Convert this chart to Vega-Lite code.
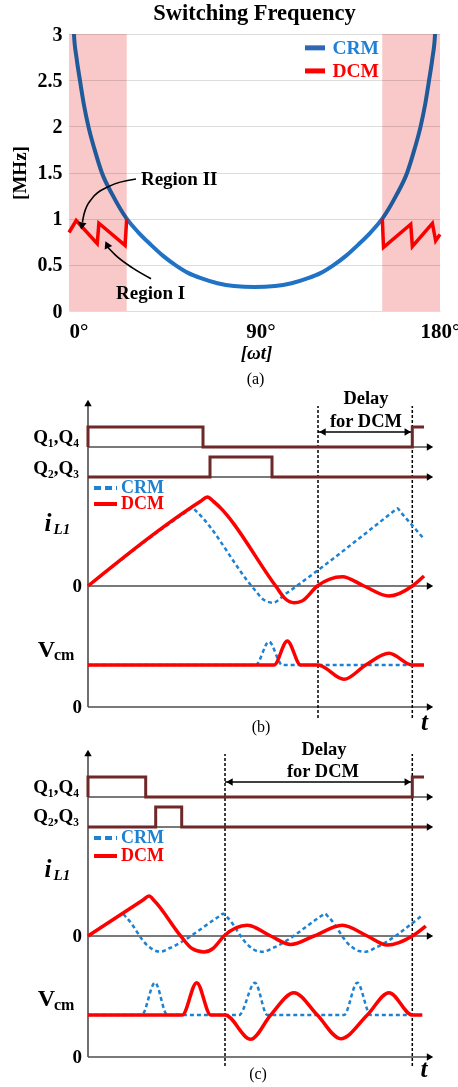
{
  "$schema": "https://vega.github.io/schema/vega-lite/v6.json",
  "bounds": "flush",
  "spacing": 30,
  "padding": {"left": 10, "top": 1, "right": 0, "bottom": 0},
  "config": {
    "view": {"stroke": null},
    "font": "Liberation Serif",
    "text": {"font": "Liberation Serif", "fontWeight": "bold", "fontSize": 19, "baseline": "middle", "color": "black"}
  },
  "vconcat": [
    {
      "width": 371,
      "height": 277,
      "title": {"text": "Switching Frequency", "font": "Liberation Serif", "fontSize": 22.5, "fontWeight": "bold", "color": "black", "offset": 0},
      "layer": [
        {
          "data": {"values": [
            {"deg": 2.0, "mhz": 3.25}, {"deg": 2.4, "mhz": 3.0}, {"deg": 3.6, "mhz": 2.75}, {"deg": 5.3, "mhz": 2.5},
            {"deg": 7.1, "mhz": 2.25}, {"deg": 9.4, "mhz": 2.0}, {"deg": 12.4, "mhz": 1.75}, {"deg": 15.9, "mhz": 1.5},
            {"deg": 21.3, "mhz": 1.25}, {"deg": 28, "mhz": 1.0}, {"deg": 33.5, "mhz": 0.855}, {"deg": 39.6, "mhz": 0.72},
            {"deg": 45.5, "mhz": 0.6}, {"deg": 51.8, "mhz": 0.495}, {"deg": 58, "mhz": 0.41}, {"deg": 64.7, "mhz": 0.35},
            {"deg": 72, "mhz": 0.3}, {"deg": 80, "mhz": 0.27}, {"deg": 90, "mhz": 0.26},
            {"deg": 100, "mhz": 0.27}, {"deg": 108, "mhz": 0.3}, {"deg": 115.3, "mhz": 0.35}, {"deg": 122, "mhz": 0.41},
            {"deg": 128.2, "mhz": 0.495}, {"deg": 134.5, "mhz": 0.6}, {"deg": 140.4, "mhz": 0.72}, {"deg": 146.5, "mhz": 0.855},
            {"deg": 152, "mhz": 1.0}, {"deg": 158.7, "mhz": 1.25}, {"deg": 164.1, "mhz": 1.5}, {"deg": 167.6, "mhz": 1.75},
            {"deg": 170.6, "mhz": 2.0}, {"deg": 172.9, "mhz": 2.25}, {"deg": 174.7, "mhz": 2.5}, {"deg": 176.4, "mhz": 2.75},
            {"deg": 177.6, "mhz": 3.0}, {"deg": 178.0, "mhz": 3.25}
          ]},
          "mark": {"type": "line", "interpolate": "monotone", "strokeWidth": 4, "clip": true, "color": "#1f72c4"},
          "encoding": {
            "x": {
              "field": "deg", "type": "quantitative",
              "scale": {"domain": [0, 180], "nice": false, "zero": false},
              "axis": {
                "values": [0, 90, 180],
                "labelExpr": "datum.value + '°'",
                "labelFlush": false,
                "labelAlign": {"condition": {"test": "datum.value === 0", "value": "left"}, "value": "center"},
                "labelOffset": {"condition": {"test": "datum.value === 90", "value": 6}, "value": 0},
                "domain": false, "ticks": false, "grid": false,
                "labelFont": "Liberation Serif", "labelFontWeight": "bold", "labelFontSize": 21,
                "labelColor": "black", "labelPadding": 9, "title": null
              }
            },
            "y": {
              "field": "mhz", "type": "quantitative",
              "scale": {"domain": [0, 3], "nice": false},
              "axis": {
                "values": [0, 0.5, 1, 1.5, 2, 2.5, 3], "format": "~g",
                "grid": true, "gridColor": "#dddddd", "gridWidth": 1,
                "domain": false, "ticks": false,
                "labelFont": "Liberation Serif", "labelFontWeight": "bold", "labelFontSize": 20,
                "labelColor": "black", "labelPadding": 7,
                "title": "[MHz]", "titleFont": "Liberation Serif", "titleFontWeight": "bold",
                "titleFontSize": 19, "titleColor": "black", "titlePadding": 8
              }
            }
          }
        },
        {
          "mark": {"type": "rule", "strokeDash": [2.5, 3], "strokeWidth": 2.5, "color": "black"},
          "encoding": {"y": {"datum": 1, "type": "quantitative"}}
        },
        {
          "data": {"values": [
            {"side": "rise", "deg": 0, "mhz": 0.85}, {"side": "rise", "deg": 3.5, "mhz": 0.98},
            {"side": "rise", "deg": 13.7, "mhz": 0.73}, {"side": "rise", "deg": 14.5, "mhz": 0.95},
            {"side": "rise", "deg": 27.2, "mhz": 0.71}, {"side": "rise", "deg": 28, "mhz": 1.0},
            {"side": "fall", "deg": 152, "mhz": 1.0}, {"side": "fall", "deg": 152.6, "mhz": 0.69},
            {"side": "fall", "deg": 165.8, "mhz": 0.94}, {"side": "fall", "deg": 166.6, "mhz": 0.7},
            {"side": "fall", "deg": 176.3, "mhz": 0.95}, {"side": "fall", "deg": 177.9, "mhz": 0.76},
            {"side": "fall", "deg": 180, "mhz": 0.83}
          ]},
          "mark": {"type": "line", "strokeWidth": 3.5, "color": "#ff0000", "strokeJoin": "miter"},
          "encoding": {
            "x": {"field": "deg", "type": "quantitative"},
            "y": {"field": "mhz", "type": "quantitative"},
            "detail": {"field": "side"}
          }
        },
        {
          "data": {"values": [
            {"mode": "CRM", "a": 114.5, "b": 124.2, "c": 127.8, "y": 2.85},
            {"mode": "DCM", "a": 114.5, "b": 124.2, "c": 127.8, "y": 2.6}
          ]},
          "layer": [
            {
              "mark": {"type": "rule", "strokeWidth": 5},
              "encoding": {
                "x": {"field": "a", "type": "quantitative"},
                "x2": {"field": "b"},
                "y": {"field": "y", "type": "quantitative"},
                "color": {"field": "mode", "type": "nominal", "scale": {"domain": ["CRM", "DCM"], "range": ["#2d68b4", "#ff0000"]}, "legend": null}
              }
            },
            {
              "mark": {"type": "text", "align": "left", "fontSize": 19.5},
              "encoding": {
                "x": {"field": "c", "type": "quantitative"},
                "y": {"field": "y", "type": "quantitative"},
                "text": {"field": "mode"},
                "color": {"field": "mode", "type": "nominal", "scale": {"domain": ["CRM", "DCM"], "range": ["#1f80d6", "#ff0000"]}, "legend": null}
              }
            }
          ],
          "resolve": {"scale": {"color": "independent"}}
        },
        {
          "data": {"values": [
            {"arrow": "II", "deg": 32.5, "mhz": 1.43}, {"arrow": "II", "deg": 19.4, "mhz": 1.35},
            {"arrow": "II", "deg": 11.2, "mhz": 1.22}, {"arrow": "II", "deg": 7.3, "mhz": 1.05},
            {"arrow": "II", "deg": 6.5, "mhz": 0.96},
            {"arrow": "I", "deg": 39.8, "mhz": 0.35}, {"arrow": "I", "deg": 30.6, "mhz": 0.47},
            {"arrow": "I", "deg": 22.8, "mhz": 0.6}, {"arrow": "I", "deg": 18.8, "mhz": 0.69}
          ]},
          "mark": {"type": "line", "interpolate": "monotone", "strokeWidth": 1.6, "color": "black"},
          "encoding": {
            "x": {"field": "deg", "type": "quantitative"},
            "y": {"field": "mhz", "type": "quantitative"},
            "detail": {"field": "arrow"}
          }
        },
        {
          "data": {"values": [{"deg": 6.2, "mhz": 0.92}]},
          "mark": {"type": "point", "shape": "triangle-up", "filled": true, "color": "black", "opacity": 1, "size": 70, "angle": 190},
          "encoding": {"x": {"field": "deg", "type": "quantitative"}, "y": {"field": "mhz", "type": "quantitative"}}
        },
        {
          "data": {"values": [{"deg": 18.4, "mhz": 0.72}]},
          "mark": {"type": "point", "shape": "triangle-up", "filled": true, "color": "black", "opacity": 1, "size": 70, "angle": 335},
          "encoding": {"x": {"field": "deg", "type": "quantitative"}, "y": {"field": "mhz", "type": "quantitative"}}
        },
        {
          "data": {"values": [
            {"label": "Region II", "deg": 34.9, "mhz": 1.43},
            {"label": "Region I", "deg": 22.8, "mhz": 0.195}
          ]},
          "mark": {"type": "text", "align": "left", "fontSize": 19},
          "encoding": {
            "x": {"field": "deg", "type": "quantitative"},
            "y": {"field": "mhz", "type": "quantitative"},
            "text": {"field": "label"}
          }
        },
        {
          "data": {"values": [{"from": 0, "to": 28}, {"from": 152, "to": 180}]},
          "mark": {"type": "rect", "color": "#f9c8c8", "blend": "multiply"},
          "encoding": {
            "x": {"field": "from", "type": "quantitative"},
            "x2": {"field": "to"},
            "y": {"datum": 0, "type": "quantitative"},
            "y2": {"datum": 3}
          }
        },
        {
          "data": {"values": [{"label": "[ωt]", "deg": 91, "mhz": -0.455}]},
          "mark": {"type": "text", "fontStyle": "italic", "fontSize": 19},
          "encoding": {
            "x": {"field": "deg", "type": "quantitative"},
            "y": {"field": "mhz", "type": "quantitative"},
            "text": {"field": "label"}
          }
        },
        {
          "data": {"values": [{"label": "(a)", "deg": 90.5, "mhz": -0.74}]},
          "mark": {"type": "text", "fontWeight": "normal", "fontSize": 16},
          "encoding": {
            "x": {"field": "deg", "type": "quantitative"},
            "y": {"field": "mhz", "type": "quantitative"},
            "text": {"field": "label"}
          }
        }
      ]
    },
    {
      "width": 375,
      "height": 380,
      "layer": [
        {
          "data": {"values": [
            {"t1": 0, "t2": 34.3, "v1": 26, "v2": 26},
            {"t1": 0, "t2": 34.3, "v1": 23, "v2": 23},
            {"t1": 0, "t2": 34.3, "v1": 12.1, "v2": 12.1},
            {"t1": 0, "t2": 34.3, "v1": 0, "v2": 0},
            {"t1": 0, "t2": 0, "v1": 0, "v2": 30.3}
          ]},
          "mark": {"type": "rule", "color": "#4d4d4d", "strokeWidth": 1.6},
          "encoding": {
            "x": {"field": "t1", "type": "quantitative", "scale": {"domain": [-1.9, 35.6], "nice": false, "zero": false}, "axis": null},
            "x2": {"field": "t2"},
            "y": {"field": "v1", "type": "quantitative", "scale": {"domain": [-1.4, 36.6], "nice": false, "zero": false}, "axis": null},
            "y2": {"field": "v2"}
          }
        },
        {
          "data": {"values": [
            {"t": 23.0, "v1": -1.1, "v2": 30.1},
            {"t": 32.43, "v1": -1.1, "v2": 30.1}
          ]},
          "mark": {"type": "rule", "color": "black", "strokeWidth": 1.5, "strokeDash": [3, 2]},
          "encoding": {
            "x": {"field": "t", "type": "quantitative", "axis": null},
            "y": {"field": "v1", "type": "quantitative", "axis": null},
            "y2": {"field": "v2"}
          }
        },
        {
          "data": {"values": [{"t1": 23.0, "t2": 32.43, "v": 27.5}]},
          "mark": {"type": "rule", "color": "black", "strokeWidth": 1.5},
          "encoding": {
            "x": {"field": "t1", "type": "quantitative", "axis": null},
            "x2": {"field": "t2"},
            "y": {"field": "v", "type": "quantitative", "axis": null}
          }
        },
        {
          "data": {"values": [
            {"sig": "Q14", "i": 0, "t": 0, "v": 26}, {"sig": "Q14", "i": 1, "t": 0, "v": 28},
            {"sig": "Q14", "i": 2, "t": 11.5, "v": 28}, {"sig": "Q14", "i": 3, "t": 11.5, "v": 26},
            {"sig": "Q14", "i": 4, "t": 32.43, "v": 26}, {"sig": "Q14", "i": 5, "t": 32.43, "v": 28},
            {"sig": "Q14", "i": 6, "t": 33.6, "v": 28},
            {"sig": "Q23", "i": 0, "t": 0, "v": 23}, {"sig": "Q23", "i": 1, "t": 12.2, "v": 23},
            {"sig": "Q23", "i": 2, "t": 12.2, "v": 25}, {"sig": "Q23", "i": 3, "t": 18.4, "v": 25},
            {"sig": "Q23", "i": 4, "t": 18.4, "v": 23}, {"sig": "Q23", "i": 5, "t": 33.9, "v": 23}
          ]},
          "mark": {"type": "line", "color": "#6e2828", "strokeWidth": 3, "strokeJoin": "miter"},
          "encoding": {
            "x": {"field": "t", "type": "quantitative", "axis": null},
            "y": {"field": "v", "type": "quantitative", "axis": null},
            "detail": {"field": "sig"},
            "order": {"field": "i", "type": "quantitative"}
          }
        },
        {
          "data": {"values": [
            {"trace": "iL1", "t": 0, "v": 12.1}, {"trace": "iL1", "t": 10.1, "v": 19.7}, {"trace": "iL1", "t": 10.43, "v": 19.92},
            {"trace": "iL1", "t": 10.8, "v": 19.6}, {"trace": "iL1", "t": 16.6, "v": 11.8}, {"trace": "iL1", "t": 17.6, "v": 10.7},
            {"trace": "iL1", "t": 18.5, "v": 10.43}, {"trace": "iL1", "t": 19.8, "v": 11.34}, {"trace": "iL1", "t": 30.55, "v": 19.57},
            {"trace": "iL1", "t": 30.93, "v": 19.87}, {"trace": "iL1", "t": 31.3, "v": 19.45}, {"trace": "iL1", "t": 33.6, "v": 16.8},
            {"trace": "Vcm", "t": 0, "v": 4.2}, {"trace": "Vcm", "t": 16.77, "v": 4.2}, {"trace": "Vcm", "t": 18.1, "v": 6.53},
            {"trace": "Vcm", "t": 19.43, "v": 4.2}, {"trace": "Vcm", "t": 33.6, "v": 4.2}
          ]},
          "mark": {"type": "line", "interpolate": "monotone", "color": "#1e82d2", "strokeWidth": 2.5, "strokeDash": [4, 3]},
          "encoding": {
            "x": {"field": "t", "type": "quantitative", "axis": null},
            "y": {"field": "v", "type": "quantitative", "axis": null},
            "detail": {"field": "trace"}
          }
        },
        {
          "data": {"values": [
            {"trace": "iL1", "t": 0, "v": 12.1}, {"trace": "iL1", "t": 11.3, "v": 20.6}, {"trace": "iL1", "t": 11.93, "v": 21.0},
            {"trace": "iL1", "t": 12.55, "v": 20.55}, {"trace": "iL1", "t": 18.77, "v": 12.1}, {"trace": "iL1", "t": 19.7, "v": 10.85},
            {"trace": "iL1", "t": 20.6, "v": 10.43}, {"trace": "iL1", "t": 21.4, "v": 10.6}, {"trace": "iL1", "t": 22.93, "v": 12.1},
            {"trace": "iL1", "t": 25.43, "v": 13.03}, {"trace": "iL1", "t": 27.6, "v": 12.1}, {"trace": "iL1", "t": 30.1, "v": 11.1},
            {"trace": "iL1", "t": 32.43, "v": 12.1}, {"trace": "iL1", "t": 33.6, "v": 13.1},
            {"trace": "Vcm", "t": 0, "v": 4.2}, {"trace": "Vcm", "t": 18.6, "v": 4.2}, {"trace": "Vcm", "t": 19.93, "v": 6.6},
            {"trace": "Vcm", "t": 21.27, "v": 4.2}, {"trace": "Vcm", "t": 23.0, "v": 4.2}, {"trace": "Vcm", "t": 25.6, "v": 2.77},
            {"trace": "Vcm", "t": 27.77, "v": 4.2}, {"trace": "Vcm", "t": 30.1, "v": 5.37}, {"trace": "Vcm", "t": 32.43, "v": 4.2},
            {"trace": "Vcm", "t": 33.6, "v": 4.2}
          ]},
          "mark": {"type": "line", "interpolate": "monotone", "color": "#ff0000", "strokeWidth": 3.5},
          "encoding": {
            "x": {"field": "t", "type": "quantitative", "axis": null},
            "y": {"field": "v", "type": "quantitative", "axis": null},
            "detail": {"field": "trace"}
          }
        },
        {
          "data": {"values": [
            {"t": 34.2, "v": 26, "dir": "right"}, {"t": 34.2, "v": 23, "dir": "right"},
            {"t": 34.2, "v": 12.1, "dir": "right"}, {"t": 34.2, "v": 0, "dir": "right"},
            {"t": 0, "v": 30.4, "dir": "up"},
            {"t": 23.45, "v": 27.5, "dir": "left"}, {"t": 31.98, "v": 27.5, "dir": "right"}
          ]},
          "mark": {"type": "point", "filled": true, "color": "black", "opacity": 1, "size": 55},
          "encoding": {
            "x": {"field": "t", "type": "quantitative", "axis": null},
            "y": {"field": "v", "type": "quantitative", "axis": null},
            "shape": {"field": "dir", "type": "nominal", "scale": {"domain": ["right", "up", "left"], "range": ["triangle-right", "triangle-up", "triangle-left"]}, "legend": null}
          }
        },
        {
          "data": {"values": [
            {"mode": "CRM", "t1": 0.6, "t2": 2.9, "tx": 3.3, "v": 21.9},
            {"mode": "DCM", "t1": 0.6, "t2": 2.9, "tx": 3.3, "v": 20.3}
          ]},
          "layer": [
            {
              "mark": {"type": "rule", "strokeWidth": 4},
              "encoding": {
                "x": {"field": "t1", "type": "quantitative", "axis": null},
                "x2": {"field": "t2"},
                "y": {"field": "v", "type": "quantitative", "axis": null},
                "color": {"field": "mode", "type": "nominal", "scale": {"domain": ["CRM", "DCM"], "range": ["#1e82d2", "#ff0000"]}, "legend": null},
                "strokeDash": {"field": "mode", "type": "nominal", "scale": {"domain": ["CRM", "DCM"], "range": [[7, 4], [1, 0]]}, "legend": null}
              }
            },
            {
              "mark": {"type": "text", "align": "left", "fontSize": 18},
              "encoding": {
                "x": {"field": "tx", "type": "quantitative", "axis": null},
                "y": {"field": "v", "type": "quantitative", "axis": null},
                "text": {"field": "mode"},
                "color": {"field": "mode", "type": "nominal", "scale": {"domain": ["CRM", "DCM"], "range": ["#1e82d2", "#ff0000"]}, "legend": null}
              }
            }
          ]
        },
        {
          "data": {"values": [
            {"t": -0.9, "v": 27.0, "label": "Q₁,Q₄"}, {"t": -0.9, "v": 23.9, "label": "Q₂,Q₃"},
            {"t": -0.6, "v": 12.1, "label": "0"}, {"t": -0.6, "v": 0, "label": "0"}
          ]},
          "mark": {"type": "text", "align": "right", "fontSize": 19},
          "encoding": {
            "x": {"field": "t", "type": "quantitative", "axis": null},
            "y": {"field": "v", "type": "quantitative", "axis": null},
            "text": {"field": "label"}
          }
        },
        {
          "data": {"values": [
            {"t": 27.8, "v": 30.9, "label": "Delay"}, {"t": 27.8, "v": 28.6, "label": "for DCM"}
          ]},
          "mark": {"type": "text", "align": "center", "fontSize": 18.5},
          "encoding": {
            "x": {"field": "t", "type": "quantitative", "axis": null},
            "y": {"field": "v", "type": "quantitative", "axis": null},
            "text": {"field": "label"}
          }
        },
        {
          "data": {"values": [{"t": -4.0, "v": 18.4, "label": "i"}, {"t": 33.65, "v": -1.5, "label": "t"}]},
          "mark": {"type": "text", "align": "center", "fontSize": 25, "fontStyle": "italic"},
          "encoding": {
            "x": {"field": "t", "type": "quantitative", "axis": null},
            "y": {"field": "v", "type": "quantitative", "axis": null},
            "text": {"field": "label"}
          }
        },
        {
          "data": {"values": [{"t": -3.45, "v": 17.8, "label": "L1"}]},
          "mark": {"type": "text", "align": "left", "fontSize": 15, "fontStyle": "italic"},
          "encoding": {
            "x": {"field": "t", "type": "quantitative", "axis": null},
            "y": {"field": "v", "type": "quantitative", "axis": null},
            "text": {"field": "label"}
          }
        },
        {
          "data": {"values": [{"t": -4.15, "v": 5.7, "label": "V"}]},
          "mark": {"type": "text", "align": "center", "fontSize": 24},
          "encoding": {
            "x": {"field": "t", "type": "quantitative", "axis": null},
            "y": {"field": "v", "type": "quantitative", "axis": null},
            "text": {"field": "label"}
          }
        },
        {
          "data": {"values": [{"t": -3.4, "v": 5.2, "label": "cm"}]},
          "mark": {"type": "text", "align": "left", "fontSize": 16},
          "encoding": {
            "x": {"field": "t", "type": "quantitative", "axis": null},
            "y": {"field": "v", "type": "quantitative", "axis": null},
            "text": {"field": "label"}
          }
        },
        {
          "data": {"values": [{"t": 17.3, "v": -2.0, "label": "(b)"}]},
          "mark": {"type": "text", "align": "center", "fontSize": 16, "fontWeight": "normal"},
          "encoding": {
            "x": {"field": "t", "type": "quantitative", "axis": null},
            "y": {"field": "v", "type": "quantitative", "axis": null},
            "text": {"field": "label"}
          }
        }
      ]
    },
    {
      "width": 375,
      "height": 337,
      "layer": [
        {
          "data": {"values": [
            {"t1": 0, "t2": 34.3, "v1": 26, "v2": 26},
            {"t1": 0, "t2": 34.3, "v1": 23, "v2": 23},
            {"t1": 0, "t2": 34.3, "v1": 12.1, "v2": 12.1},
            {"t1": 0, "t2": 34.3, "v1": 0, "v2": 0},
            {"t1": 0, "t2": 0, "v1": 0, "v2": 30.3}
          ]},
          "mark": {"type": "rule", "color": "#4d4d4d", "strokeWidth": 1.6},
          "encoding": {
            "x": {"field": "t1", "type": "quantitative", "scale": {"domain": [-1.9, 35.6], "nice": false, "zero": false}, "axis": null},
            "x2": {"field": "t2"},
            "y": {"field": "v1", "type": "quantitative", "scale": {"domain": [-3.1, 30.6], "nice": false, "zero": false}, "axis": null},
            "y2": {"field": "v2"}
          }
        },
        {
          "data": {"values": [
            {"t": 13.7, "v1": -0.9, "v2": 30.3},
            {"t": 32.43, "v1": -0.9, "v2": 30.3}
          ]},
          "mark": {"type": "rule", "color": "black", "strokeWidth": 1.5, "strokeDash": [3, 2]},
          "encoding": {
            "x": {"field": "t", "type": "quantitative", "axis": null},
            "y": {"field": "v1", "type": "quantitative", "axis": null},
            "y2": {"field": "v2"}
          }
        },
        {
          "data": {"values": [{"t1": 13.7, "t2": 32.43, "v": 27.5}]},
          "mark": {"type": "rule", "color": "black", "strokeWidth": 1.5},
          "encoding": {
            "x": {"field": "t1", "type": "quantitative", "axis": null},
            "x2": {"field": "t2"},
            "y": {"field": "v", "type": "quantitative", "axis": null}
          }
        },
        {
          "data": {"values": [
            {"sig": "Q14", "i": 0, "t": 0, "v": 26}, {"sig": "Q14", "i": 1, "t": 0, "v": 28},
            {"sig": "Q14", "i": 2, "t": 5.77, "v": 28}, {"sig": "Q14", "i": 3, "t": 5.77, "v": 26},
            {"sig": "Q14", "i": 4, "t": 32.43, "v": 26}, {"sig": "Q14", "i": 5, "t": 32.43, "v": 28},
            {"sig": "Q14", "i": 6, "t": 33.6, "v": 28},
            {"sig": "Q23", "i": 0, "t": 0, "v": 23}, {"sig": "Q23", "i": 1, "t": 6.77, "v": 23},
            {"sig": "Q23", "i": 2, "t": 6.77, "v": 25}, {"sig": "Q23", "i": 3, "t": 9.37, "v": 25},
            {"sig": "Q23", "i": 4, "t": 9.37, "v": 23}, {"sig": "Q23", "i": 5, "t": 33.9, "v": 23}
          ]},
          "mark": {"type": "line", "color": "#6e2828", "strokeWidth": 3, "strokeJoin": "miter"},
          "encoding": {
            "x": {"field": "t", "type": "quantitative", "axis": null},
            "y": {"field": "v", "type": "quantitative", "axis": null},
            "detail": {"field": "sig"},
            "order": {"field": "i", "type": "quantitative"}
          }
        },
        {
          "data": {"values": [
            {"trace": "iL1", "t": 0, "v": 12.1}, {"trace": "iL1", "t": 3.1, "v": 14.13}, {"trace": "iL1", "t": 3.43, "v": 14.33},
            {"trace": "iL1", "t": 3.8, "v": 14.0}, {"trace": "iL1", "t": 6.0, "v": 11.1}, {"trace": "iL1", "t": 6.8, "v": 10.6},
            {"trace": "iL1", "t": 7.27, "v": 10.53}, {"trace": "iL1", "t": 8.2, "v": 10.9},
            {"trace": "iL1", "t": 13.2, "v": 14.12}, {"trace": "iL1", "t": 13.53, "v": 14.33}, {"trace": "iL1", "t": 13.9, "v": 14.0},
            {"trace": "iL1", "t": 16.1, "v": 11.1}, {"trace": "iL1", "t": 16.9, "v": 10.6}, {"trace": "iL1", "t": 17.5, "v": 10.53},
            {"trace": "iL1", "t": 18.5, "v": 10.9},
            {"trace": "iL1", "t": 23.35, "v": 14.12}, {"trace": "iL1", "t": 23.67, "v": 14.33}, {"trace": "iL1", "t": 24.05, "v": 14.0},
            {"trace": "iL1", "t": 26.25, "v": 11.1}, {"trace": "iL1", "t": 27.1, "v": 10.6}, {"trace": "iL1", "t": 27.8, "v": 10.53},
            {"trace": "iL1", "t": 28.7, "v": 10.9}, {"trace": "iL1", "t": 33.33, "v": 14.1},
            {"trace": "Vcm", "t": 0, "v": 4.2}, {"trace": "Vcm", "t": 5.37, "v": 4.2}, {"trace": "Vcm", "t": 6.7, "v": 7.43},
            {"trace": "Vcm", "t": 7.93, "v": 4.2}, {"trace": "Vcm", "t": 15.1, "v": 4.2}, {"trace": "Vcm", "t": 16.7, "v": 7.43},
            {"trace": "Vcm", "t": 17.93, "v": 4.2}, {"trace": "Vcm", "t": 25.6, "v": 4.2}, {"trace": "Vcm", "t": 26.93, "v": 7.43},
            {"trace": "Vcm", "t": 28.27, "v": 4.2}, {"trace": "Vcm", "t": 32.43, "v": 4.2}
          ]},
          "mark": {"type": "line", "interpolate": "monotone", "color": "#1e82d2", "strokeWidth": 2.5, "strokeDash": [4, 3]},
          "encoding": {
            "x": {"field": "t", "type": "quantitative", "axis": null},
            "y": {"field": "v", "type": "quantitative", "axis": null},
            "detail": {"field": "trace"}
          }
        },
        {
          "data": {"values": [
            {"trace": "iL1", "t": 0, "v": 12.1}, {"trace": "iL1", "t": 5.5, "v": 15.7}, {"trace": "iL1", "t": 6.1, "v": 16.1},
            {"trace": "iL1", "t": 6.65, "v": 15.6}, {"trace": "iL1", "t": 9.27, "v": 12.1}, {"trace": "iL1", "t": 10.4, "v": 10.85},
            {"trace": "iL1", "t": 11.6, "v": 10.5}, {"trace": "iL1", "t": 12.5, "v": 10.85}, {"trace": "iL1", "t": 13.6, "v": 12.1},
            {"trace": "iL1", "t": 15.93, "v": 13.17}, {"trace": "iL1", "t": 18.27, "v": 12.1}, {"trace": "iL1", "t": 20.27, "v": 11.25},
            {"trace": "iL1", "t": 22.6, "v": 12.1}, {"trace": "iL1", "t": 25.43, "v": 13.17}, {"trace": "iL1", "t": 27.93, "v": 12.1},
            {"trace": "iL1", "t": 29.93, "v": 11.2}, {"trace": "iL1", "t": 32.43, "v": 12.1}, {"trace": "iL1", "t": 33.77, "v": 13.1},
            {"trace": "Vcm", "t": 0, "v": 4.2}, {"trace": "Vcm", "t": 9.43, "v": 4.2}, {"trace": "Vcm", "t": 10.87, "v": 7.43},
            {"trace": "Vcm", "t": 12.27, "v": 4.2}, {"trace": "Vcm", "t": 13.7, "v": 4.2}, {"trace": "Vcm", "t": 16.27, "v": 1.77},
            {"trace": "Vcm", "t": 18.27, "v": 4.2}, {"trace": "Vcm", "t": 20.6, "v": 6.43}, {"trace": "Vcm", "t": 22.93, "v": 4.2},
            {"trace": "Vcm", "t": 25.27, "v": 1.83}, {"trace": "Vcm", "t": 27.93, "v": 4.2}, {"trace": "Vcm", "t": 30.1, "v": 6.43},
            {"trace": "Vcm", "t": 32.43, "v": 4.2}, {"trace": "Vcm", "t": 33.43, "v": 4.2}
          ]},
          "mark": {"type": "line", "interpolate": "monotone", "color": "#ff0000", "strokeWidth": 3.5},
          "encoding": {
            "x": {"field": "t", "type": "quantitative", "axis": null},
            "y": {"field": "v", "type": "quantitative", "axis": null},
            "detail": {"field": "trace"}
          }
        },
        {
          "data": {"values": [
            {"t": 34.2, "v": 26, "dir": "right"}, {"t": 34.2, "v": 23, "dir": "right"},
            {"t": 34.2, "v": 12.1, "dir": "right"}, {"t": 34.2, "v": 0, "dir": "right"},
            {"t": 0, "v": 30.4, "dir": "up"},
            {"t": 14.15, "v": 27.5, "dir": "left"}, {"t": 31.98, "v": 27.5, "dir": "right"}
          ]},
          "mark": {"type": "point", "filled": true, "color": "black", "opacity": 1, "size": 55},
          "encoding": {
            "x": {"field": "t", "type": "quantitative", "axis": null},
            "y": {"field": "v", "type": "quantitative", "axis": null},
            "shape": {"field": "dir", "type": "nominal", "scale": {"domain": ["right", "up", "left"], "range": ["triangle-right", "triangle-up", "triangle-left"]}, "legend": null}
          }
        },
        {
          "data": {"values": [
            {"mode": "CRM", "t1": 0.6, "t2": 2.9, "tx": 3.3, "v": 21.9},
            {"mode": "DCM", "t1": 0.6, "t2": 2.9, "tx": 3.3, "v": 20.1}
          ]},
          "layer": [
            {
              "mark": {"type": "rule", "strokeWidth": 4},
              "encoding": {
                "x": {"field": "t1", "type": "quantitative", "axis": null},
                "x2": {"field": "t2"},
                "y": {"field": "v", "type": "quantitative", "axis": null},
                "color": {"field": "mode", "type": "nominal", "scale": {"domain": ["CRM", "DCM"], "range": ["#1e82d2", "#ff0000"]}, "legend": null},
                "strokeDash": {"field": "mode", "type": "nominal", "scale": {"domain": ["CRM", "DCM"], "range": [[7, 4], [1, 0]]}, "legend": null}
              }
            },
            {
              "mark": {"type": "text", "align": "left", "fontSize": 18},
              "encoding": {
                "x": {"field": "tx", "type": "quantitative", "axis": null},
                "y": {"field": "v", "type": "quantitative", "axis": null},
                "text": {"field": "mode"},
                "color": {"field": "mode", "type": "nominal", "scale": {"domain": ["CRM", "DCM"], "range": ["#1e82d2", "#ff0000"]}, "legend": null}
              }
            }
          ]
        },
        {
          "data": {"values": [
            {"t": -0.9, "v": 27.0, "label": "Q₁,Q₄"}, {"t": -0.9, "v": 24.1, "label": "Q₂,Q₃"},
            {"t": -0.6, "v": 12.1, "label": "0"}, {"t": -0.6, "v": 0, "label": "0"}
          ]},
          "mark": {"type": "text", "align": "right", "fontSize": 19},
          "encoding": {
            "x": {"field": "t", "type": "quantitative", "axis": null},
            "y": {"field": "v", "type": "quantitative", "axis": null},
            "text": {"field": "label"}
          }
        },
        {
          "data": {"values": [
            {"t": 23.6, "v": 30.8, "label": "Delay"}, {"t": 23.5, "v": 28.6, "label": "for DCM"}
          ]},
          "mark": {"type": "text", "align": "center", "fontSize": 18.5},
          "encoding": {
            "x": {"field": "t", "type": "quantitative", "axis": null},
            "y": {"field": "v", "type": "quantitative", "axis": null},
            "text": {"field": "label"}
          }
        },
        {
          "data": {"values": [{"t": -4.0, "v": 18.8, "label": "i"}, {"t": 33.6, "v": -1.2, "label": "t"}]},
          "mark": {"type": "text", "align": "center", "fontSize": 25, "fontStyle": "italic"},
          "encoding": {
            "x": {"field": "t", "type": "quantitative", "axis": null},
            "y": {"field": "v", "type": "quantitative", "axis": null},
            "text": {"field": "label"}
          }
        },
        {
          "data": {"values": [{"t": -3.45, "v": 18.2, "label": "L1"}]},
          "mark": {"type": "text", "align": "left", "fontSize": 15, "fontStyle": "italic"},
          "encoding": {
            "x": {"field": "t", "type": "quantitative", "axis": null},
            "y": {"field": "v", "type": "quantitative", "axis": null},
            "text": {"field": "label"}
          }
        },
        {
          "data": {"values": [{"t": -4.15, "v": 5.8, "label": "V"}]},
          "mark": {"type": "text", "align": "center", "fontSize": 24},
          "encoding": {
            "x": {"field": "t", "type": "quantitative", "axis": null},
            "y": {"field": "v", "type": "quantitative", "axis": null},
            "text": {"field": "label"}
          }
        },
        {
          "data": {"values": [{"t": -3.4, "v": 5.2, "label": "cm"}]},
          "mark": {"type": "text", "align": "left", "fontSize": 16},
          "encoding": {
            "x": {"field": "t", "type": "quantitative", "axis": null},
            "y": {"field": "v", "type": "quantitative", "axis": null},
            "text": {"field": "label"}
          }
        },
        {
          "data": {"values": [{"t": 17.0, "v": -1.7, "label": "(c)"}]},
          "mark": {"type": "text", "align": "center", "fontSize": 16, "fontWeight": "normal"},
          "encoding": {
            "x": {"field": "t", "type": "quantitative", "axis": null},
            "y": {"field": "v", "type": "quantitative", "axis": null},
            "text": {"field": "label"}
          }
        }
      ]
    }
  ]
}
